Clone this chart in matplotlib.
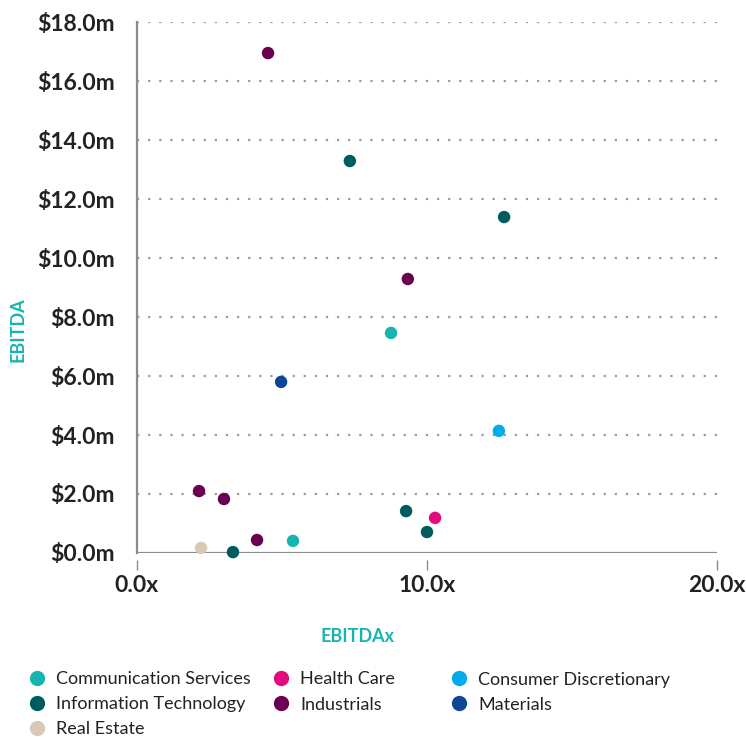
import matplotlib
matplotlib.use("Agg")
import matplotlib.pyplot as plt
from matplotlib.lines import Line2D
from matplotlib.ticker import FuncFormatter

plt.rcParams['font.family'] = ['Lato', 'DejaVu Sans']

# sectors and colours
sectors = ['Communication Services', 'Health Care', 'Consumer Discretionary',
           'Information Technology', 'Industrials', 'Materials', 'Real Estate']
colors = ['#17b5b0', '#e4097e', '#00acec', '#005b5c', '#6a0050', '#0b4796', '#d9c8b4']

# points: EBITDAx, EBITDA ($m)
comm_x = [8.76, 5.38]
comm_y = [7.46, 0.41]
health_x = [10.28]
health_y = [1.19]
consdisc_x = [12.48]
consdisc_y = [4.14]
it_x = [7.34, 12.66, 9.28, 10.0, 3.31]
it_y = [13.29, 11.39, 1.42, 0.71, 0.03]
ind_x = [4.52, 9.34, 2.14, 3.0, 4.14]
ind_y = [16.95, 9.29, 2.10, 1.83, 0.44]
mat_x = [4.97]
mat_y = [5.80]
re_x = [2.21]
re_y = [0.17]

series = [(comm_x, comm_y), (health_x, health_y), (consdisc_x, consdisc_y),
          (it_x, it_y), (ind_x, ind_y), (mat_x, mat_y), (re_x, re_y)]

W, H = 746, 737
fig = plt.figure(figsize=(W / 100, H / 100), dpi=100)
ax = fig.add_axes([0.1836, 0.2497, 0.7775, 0.7203])

for (xs, ys), c in zip(series, colors):
    ax.scatter(xs, ys, s=80, color=c, edgecolors='none', zorder=3, clip_on=False)

ax.set_xlim(0, 20)
ax.set_ylim(0, 18)
ax.set_xticks([0, 10, 20])
ax.set_yticks(range(0, 19, 2))
ax.xaxis.set_major_formatter(FuncFormatter(lambda v, p: '%.1fx' % v))
ax.yaxis.set_major_formatter(FuncFormatter(lambda v, p: '$%.1fm' % v))

for yv in range(2, 19, 2):
    ax.axhline(yv, color='#9a9a9a', lw=1.6, ls=(0, (1, 4)), zorder=1)
ax.axhline(0, color='#8c8c8c', lw=1.6, zorder=2)

for s in ['top', 'right']:
    ax.spines[s].set_visible(False)
ax.spines['left'].set_color('#8c8c8c')
ax.spines['left'].set_linewidth(1.6)
ax.spines['bottom'].set_visible(False)
ax.spines['bottom'].set_position(('outward', 5))

ax.tick_params(axis='y', length=0, pad=16, labelsize=16.5, labelcolor='#222222')
ax.tick_params(axis='x', length=7, width=1, color='#8c8c8c', pad=4,
               labelsize=16.5, labelcolor='#222222')
for lab in ax.get_xticklabels() + ax.get_yticklabels():
    lab.set_fontweight('bold')

fig.text(18 / W, 1 - 330 / H, 'EBITDA', rotation=90, color='#17b5b0',
         fontsize=13, fontweight='bold', ha='center', va='center')
fig.text(357 / W, 1 - 636 / H, 'EBITDAx', color='#17b5b0',
         fontsize=13, fontweight='bold', ha='center', va='center')

# legend laid out row by row in three fixed columns
col_px = [37, 281, 459]
row_px = [678, 703, 728]
for i, (name, c) in enumerate(zip(sectors, colors)):
    mx = col_px[i % 3]
    my = row_px[i // 3]
    fig.add_artist(Line2D([mx / W], [1 - my / H], marker='o', markersize=11,
                          color=c, markeredgecolor='none', ls='none',
                          transform=fig.transFigure))
    fig.text((mx + 19) / W, 1 - my / H, name, fontsize=13, color='#222222',
             ha='left', va='center_baseline')

fig.savefig('out.png', dpi=100)
